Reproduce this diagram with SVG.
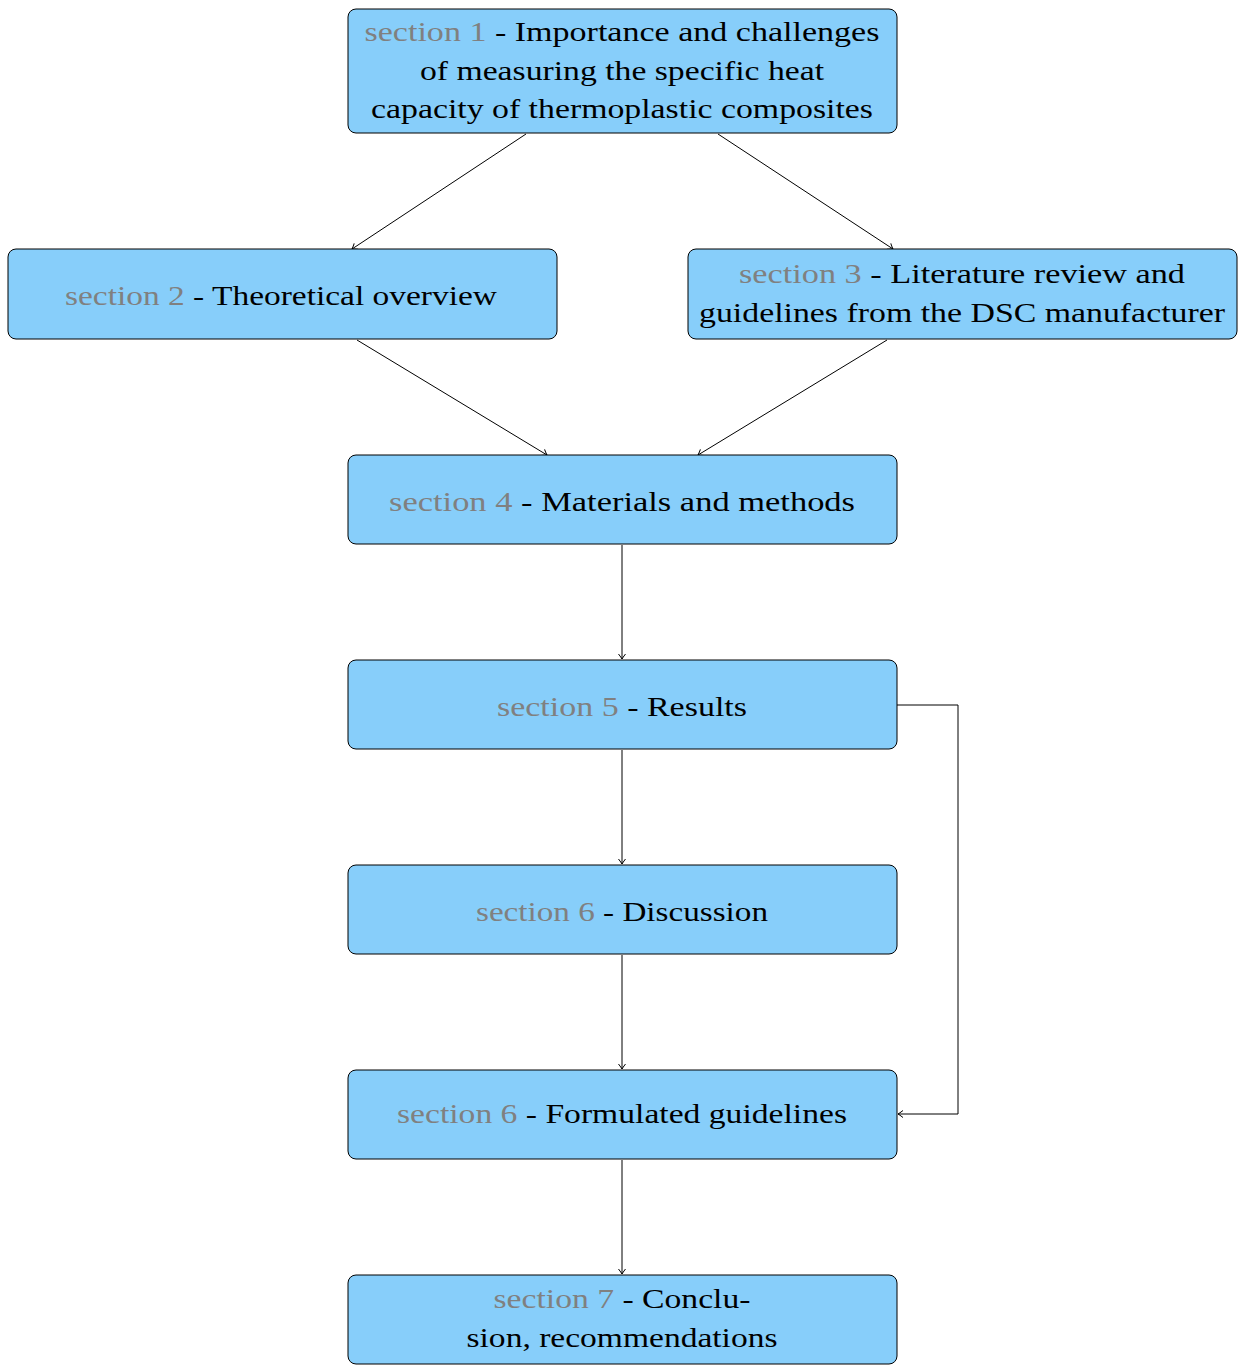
<svg xmlns="http://www.w3.org/2000/svg" width="1241" height="1365" viewBox="0 0 1241 1365">
<style>
.box{fill:#87CEFA;stroke:#000;stroke-width:1}
.t{font-family:"Liberation Serif","DejaVu Serif",serif;font-size:28px;fill:#000;text-anchor:middle}
.g{fill:#808080}
.c{fill:none;stroke:#000;stroke-width:1}
</style>
<defs>
<marker id="ah" markerUnits="userSpaceOnUse" markerWidth="12" markerHeight="12" viewBox="-6 -6 12 12" refX="0" refY="0" orient="auto">
<path d="M-5,-3.5 Q-1.5,-0.8 0,0 Q-1.5,0.8 -5,3.5" fill="none" stroke="#000" stroke-width="1"/>
</marker>
</defs>
<rect width="1241" height="1365" fill="#fff"/>
<g id="connectors">
<path class="c" d="M526,134 L352,249" marker-end="url(#ah)"/>
<path class="c" d="M718,134 L893,249" marker-end="url(#ah)"/>
<path class="c" d="M357,340 L547,455" marker-end="url(#ah)"/>
<path class="c" d="M887,340 L698,455" marker-end="url(#ah)"/>
<path class="c" d="M622,545 L622,659" marker-end="url(#ah)"/>
<path class="c" d="M622,750 L622,864" marker-end="url(#ah)"/>
<path class="c" d="M622,955 L622,1069" marker-end="url(#ah)"/>
<path class="c" d="M897,705 L958,705 L958,1114 L898,1114" marker-end="url(#ah)"/>
<path class="c" d="M622,1160 L622,1274" marker-end="url(#ah)"/>
</g>
<g id="node1">
<rect class="box" x="348" y="9" width="549" height="124" rx="8"/>
<text class="t" x="622" y="41" textLength="515" lengthAdjust="spacingAndGlyphs"><tspan class="g">section 1</tspan> - Importance and challenges</text>
<text class="t" x="622" y="80" textLength="404" lengthAdjust="spacingAndGlyphs">of measuring the specific heat</text>
<text class="t" x="622" y="118" textLength="502" lengthAdjust="spacingAndGlyphs">capacity of thermoplastic composites</text>
</g>
<g id="node2">
<rect class="box" x="8" y="249" width="549" height="90" rx="8"/>
<text class="t" x="281" y="305" textLength="432" lengthAdjust="spacingAndGlyphs"><tspan class="g">section 2</tspan> - Theoretical overview</text>
</g>
<g id="node3">
<rect class="box" x="688" y="249" width="549" height="90" rx="8"/>
<text class="t" x="962" y="283" textLength="446" lengthAdjust="spacingAndGlyphs"><tspan class="g">section 3</tspan> - Literature review and</text>
<text class="t" x="962" y="322" textLength="526" lengthAdjust="spacingAndGlyphs">guidelines from the DSC manufacturer</text>
</g>
<g id="node4">
<rect class="box" x="348" y="455" width="549" height="89" rx="8"/>
<text class="t" x="622" y="511" textLength="466" lengthAdjust="spacingAndGlyphs"><tspan class="g">section 4</tspan> - Materials and methods</text>
</g>
<g id="node5">
<rect class="box" x="348" y="660" width="549" height="89" rx="8"/>
<text class="t" x="622" y="716" textLength="250" lengthAdjust="spacingAndGlyphs"><tspan class="g">section 5</tspan> - Results</text>
</g>
<g id="node6">
<rect class="box" x="348" y="865" width="549" height="89" rx="8"/>
<text class="t" x="622" y="921" textLength="292" lengthAdjust="spacingAndGlyphs"><tspan class="g">section 6</tspan> - Discussion</text>
</g>
<g id="node7">
<rect class="box" x="348" y="1070" width="549" height="89" rx="8"/>
<text class="t" x="622" y="1123" textLength="450" lengthAdjust="spacingAndGlyphs"><tspan class="g">section 6</tspan> - Formulated guidelines</text>
</g>
<g id="node8">
<rect class="box" x="348" y="1275" width="549" height="89" rx="8"/>
<text class="t" x="622" y="1308" textLength="257" lengthAdjust="spacingAndGlyphs"><tspan class="g">section 7</tspan> - Conclu-</text>
<text class="t" x="622" y="1347" textLength="311" lengthAdjust="spacingAndGlyphs">sion, recommendations</text>
</g>
</svg>
